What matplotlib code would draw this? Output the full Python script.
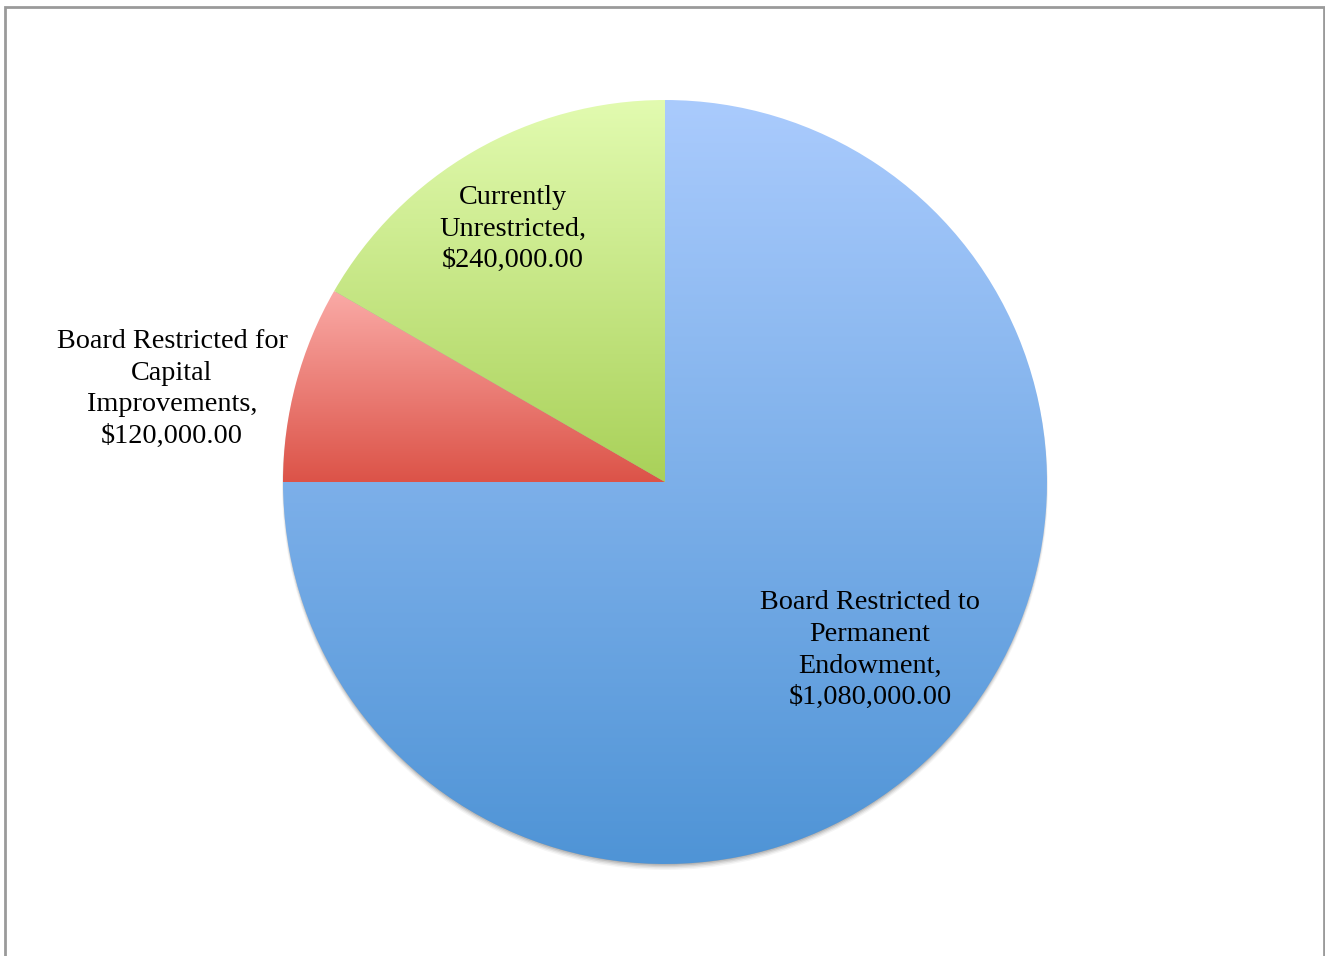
import numpy as np
import matplotlib
matplotlib.use("Agg")
import matplotlib.pyplot as plt
from matplotlib.colors import LinearSegmentedColormap
from matplotlib.patches import Circle, Rectangle

# Data
categories = ["Board Restricted to\nPermanent\nEndowment,",
              "Board Restricted for\nCapital\nImprovements,",
              "Currently\nUnrestricted,"]
values = [1080000, 120000, 240000]
top_colors = ["#aacbfd", "#faaaa6", "#e2fbb0"]
bottom_colors = ["#4f94d6", "#dc5348", "#a9d159"]
label_pos = [(870, 650), (172, 389), (513, 229)]

W, H = 1325, 956
fig = plt.figure(figsize=(W / 100, H / 100), dpi=100)
ax = fig.add_axes([0, 0, 1, 1])
ax.set_xlim(0, W)
ax.set_ylim(0, H)
ax.set_aspect("equal")
ax.axis("off")

cx, cy, R = 665, H - 482, 382

# frame
ax.add_patch(Rectangle((5, -10), 1319, H - 7 + 10, fill=False, edgecolor="#9a9a9a",
                       linewidth=2, zorder=0))

# shadow (mostly below the pie)
for i, a in enumerate([0.04, 0.06, 0.08, 0.10, 0.12]):
    ax.add_patch(Circle((cx, cy - 5 + i * 0.8), R + 1 - i * 0.6, facecolor="#000000",
                        alpha=a, edgecolor="none", zorder=1))

wedges, _ = ax.pie(values, startangle=90, counterclock=False, center=(cx, cy),
                   radius=R, frame=True,
                   wedgeprops=dict(linewidth=0, edgecolor="none"))
ax.set_xlim(0, W)
ax.set_ylim(0, H)
ax.axis("off")

for w, tc, bc in zip(wedges, top_colors, bottom_colors):
    w.set_facecolor("none")
    ext = w.get_path().get_extents(w.get_patch_transform())
    cmap = LinearSegmentedColormap.from_list("g", [bc, tc])
    grad = np.linspace(0, 1, 256).reshape(-1, 1)
    im = ax.imshow(grad, cmap=cmap, origin="lower", aspect="auto",
                   extent=(ext.x0, ext.x1, ext.y0, ext.y1), zorder=2,
                   interpolation="bilinear")
    im.set_clip_path(w)

ax.set_xlim(0, W)
ax.set_ylim(0, H)

for cat, v, (lx, ly) in zip(categories, values, label_pos):
    ax.text(lx, H - ly, f"{cat}\n${v:,.2f}", ha="center", va="center",
            fontsize=20.3, family="Liberation Serif", color="black",
            linespacing=1.36, zorder=5)

fig.savefig("out.png", dpi=100)
